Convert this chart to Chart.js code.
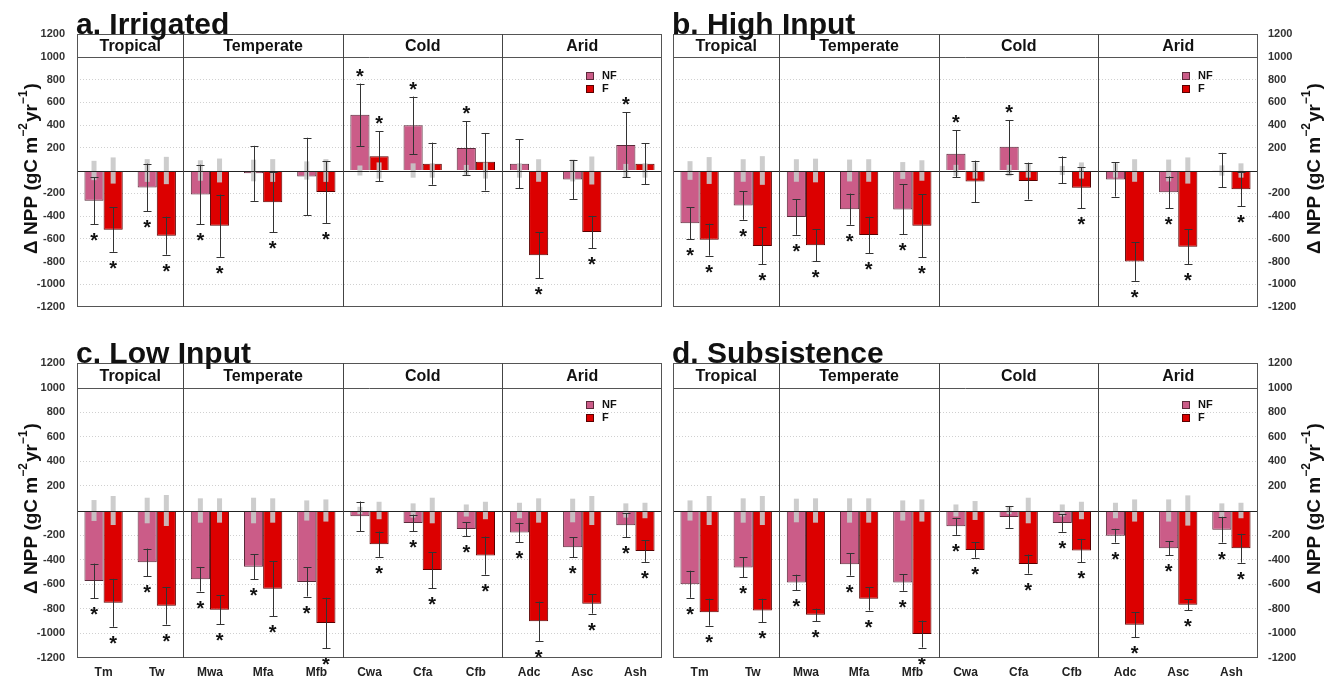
<!DOCTYPE html>
<html>
<head>
<meta charset="utf-8">
<title>NPP change by climate zone</title>
<script src="https://cdn.jsdelivr.net/npm/chart.js@4.4.1/dist/chart.umd.min.js"></script>
<style>
  body { margin: 0; background: #fff; }
  canvas { position: absolute; }
  #pa { left: 0; top: 0; }
  #pb { left: 664px; top: 0; }
  #pc { left: 0; top: 335px; }
  #pd { left: 664px; top: 335px; }
</style>
</head>
<body>
<canvas id="pa" width="664" height="340"></canvas>
<canvas id="pb" width="663" height="340"></canvas>
<canvas id="pc" width="664" height="344"></canvas>
<canvas id="pd" width="663" height="344"></canvas>

<script>
// climate zones and their groups
var zones = ['Tm', 'Tw', 'Mwa', 'Mfa', 'Mfb', 'Cwa', 'Cfa', 'Cfb', 'Adc', 'Asc', 'Ash'];
var groupNames = ['Tropical', 'Temperate', 'Cold', 'Arid'];
var groupSizes = [2, 3, 3, 3];
var yMin = -1200, yMax = 1200, yStep = 200, headerLine = 1000;

// a. Irrigated
var irrNF      = [-266, -150, -211, -25, -52, 490, 397, 197, 60, -79, 225];
var irrF       = [-520, -573, -485, -279, -189, 126, 60, 77, -745, -540, 60];
var irrNFerr   = [208, 210, 262, 242, 340, 274, 253, 235, 215, 171, 286];
var irrFerr    = [195, 167, 274, 265, 272, 220, 185, 253, 200, 141, 180];
var irrNFgrey  = [85, 100, 90, 95, 80, 44, 63, 49, 63, 96, 58];
var irrFgrey   = [115, 120, 105, 100, 100, 71, 63, 71, 99, 123, 63];
var irrNFsig   = [1, 1, 1, 0, 0, 1, 1, 1, 0, 0, 1];
var irrFsig    = [1, 1, 1, 1, 1, 1, 0, 0, 1, 1, 0];

// b. High Input
var hiNF       = [-463, -307, -408, -340, -342, 148, 208, 5, -79, -192, 3];
var hiF        = [-608, -663, -658, -567, -485, -96, -93, -151, -800, -671, -164];
var hiNFerr    = [141, 126, 157, 137, 220, 206, 236, 118, 150, 139, 152];
var hiFerr     = [141, 162, 141, 161, 276, 182, 162, 180, 170, 153, 150];
var hiNFgrey   = [82, 99, 99, 96, 74, 50, 50, 40, 63, 96, 45];
var hiFgrey    = [118, 126, 104, 99, 90, 71, 63, 71, 99, 115, 63];
var hiNFsig    = [1, 1, 1, 1, 1, 1, 1, 0, 0, 1, 0];
var hiFsig     = [1, 1, 1, 1, 1, 0, 0, 1, 1, 1, 1];

// c. Low Input
var loNF       = [-573, -422, -559, -458, -581, -47, -101, -151, -178, -299, -121];
var loF        = [-751, -775, -808, -636, -915, -274, -485, -367, -901, -759, -329];
var loNFerr    = [141, 112, 100, 101, 119, 120, 67, 56, 78, 80, 98];
var loFerr     = [195, 153, 118, 226, 205, 103, 147, 155, 160, 80, 89];
var loNFgrey   = [85, 104, 99, 104, 82, 30, 58, 49, 63, 96, 58];
var loFgrey    = [118, 126, 99, 99, 90, 71, 104, 71, 99, 118, 63];
var loNFsig    = [1, 1, 1, 1, 1, 0, 1, 1, 1, 1, 1];
var loFsig     = [1, 1, 1, 1, 1, 1, 1, 1, 1, 1, 1];

// d. Subsistence
var suNF       = [-600, -463, -586, -438, -586, -129, -52, -101, -205, -307, -156];
var suF        = [-827, -814, -849, -718, -1005, -321, -436, -326, -929, -767, -307];
var suNFerr    = [110, 82, 64, 92, 67, 69, 89, 72, 56, 55, 105];
var suFerr     = [110, 96, 51, 96, 110, 63, 78, 95, 103, 45, 118];
var suNFgrey   = [82, 99, 96, 99, 82, 49, 30, 49, 63, 90, 58];
var suFgrey    = [118, 118, 99, 99, 90, 77, 104, 71, 90, 123, 63];
var suNFsig    = [1, 1, 1, 1, 1, 1, 0, 1, 1, 1, 1];
var suFsig     = [1, 1, 1, 1, 1, 1, 1, 1, 1, 1, 1];

var NF_COLOR = '#cb5c88';
var F_COLOR = '#dc0000';
var FONT = "'Liberation Sans', Arial, sans-serif";

Chart.defaults.font.family = FONT;

function hline(ctx, x1, x2, yy, color) {
	ctx.strokeStyle = color;
	ctx.lineWidth = 1;
	ctx.beginPath();
	ctx.moveTo(x1, Math.round(yy) + 0.5);
	ctx.lineTo(x2, Math.round(yy) + 0.5);
	ctx.stroke();
}

function vline(ctx, xx, y1, y2, color) {
	ctx.strokeStyle = color;
	ctx.lineWidth = 1;
	ctx.beginPath();
	ctx.moveTo(Math.round(xx) + 0.5, y1);
	ctx.lineTo(Math.round(xx) + 0.5, y2);
	ctx.stroke();
}

// rotated axis title with real superscripts
function axisTitle(ctx, cx, cy) {
	var parts = [['\u0394 NPP (gC m', 0], ['\u22122', 1], ['yr', 0], ['\u22121', 1], [')', 0]];
	var big = 'bold 19px ' + FONT, small = 'bold 12px ' + FONT;
	var total = 0;
	parts.forEach(function (p) {
		ctx.font = p[1] ? small : big;
		total += ctx.measureText(p[0]).width + (p[1] ? 1 : 0);
	});
	ctx.save();
	ctx.translate(cx, cy);
	ctx.rotate(-Math.PI / 2);
	ctx.fillStyle = '#111';
	ctx.textAlign = 'left';
	ctx.textBaseline = 'alphabetic';
	var px = -total / 2;
	parts.forEach(function (p) {
		ctx.font = p[1] ? small : big;
		ctx.fillText(p[0], px, p[1] ? -3 : 7);
		px += ctx.measureText(p[0]).width + (p[1] ? 1 : 0);
	});
	ctx.restore();
}

var decor = {
	id: 'decor',
	afterDatasetsDraw: function (chart) {
		var o = chart.options.plugins.decor;
		var ctx = chart.ctx, a = chart.chartArea;
		var x = chart.scales.x, y = chart.scales.y;
		ctx.save();

		// grey control-variability bars
		for (var d = 0; d < 2; d++) {
			chart.getDatasetMeta(d).data.forEach(function (bar, i) {
				var g = o.grey[d][i];
				var t = y.getPixelForValue(g), b = y.getPixelForValue(-g);
				ctx.fillStyle = 'rgba(200,200,200,0.9)';
				ctx.fillRect(bar.x - 2.5, t, 5, b - t);
			});
		}

		hline(ctx, a.left, a.right, y.getPixelForValue(0), '#222');

		// error bars and significance stars
		for (var k = 0; k < 2; k++) {
			var vals = chart.data.datasets[k].data;
			chart.getDatasetMeta(k).data.forEach(function (bar, i) {
				var v = vals[i], e = o.err[k][i];
				var hi = y.getPixelForValue(v + e), lo = y.getPixelForValue(v - e);
				var cx = Math.round(bar.x) + 0.5;
				ctx.strokeStyle = '#333';
				ctx.lineWidth = 1;
				ctx.beginPath();
				ctx.moveTo(cx, hi);
				ctx.lineTo(cx, lo);
				ctx.moveTo(cx - 4, Math.round(hi) + 0.5);
				ctx.lineTo(cx + 4, Math.round(hi) + 0.5);
				ctx.moveTo(cx - 4, Math.round(lo) + 0.5);
				ctx.lineTo(cx + 4, Math.round(lo) + 0.5);
				ctx.stroke();
				if (o.sig[k][i]) {
					var sy = v < 0 ? lo + 12 : hi - 12;
					ctx.font = 'bold 20px ' + FONT;
					ctx.textAlign = 'center';
					ctx.textBaseline = 'alphabetic';
					ctx.fillStyle = '#111';
					ctx.fillText('*', bar.x, sy + 11);
				}
			});
		}

		// frame, header row, group separators and names
		var top = y.getPixelForValue(yMax), head = y.getPixelForValue(headerLine);
		ctx.strokeStyle = '#555';
		ctx.lineWidth = 1;
		ctx.strokeRect(Math.round(a.left) + 0.5, Math.round(a.top) + 0.5, Math.round(a.right - a.left) - 1, Math.round(a.bottom - a.top) - 1);
		hline(ctx, a.left, a.right, head, '#555');
		var step = x.getPixelForValue(1) - x.getPixelForValue(0);
		var start = 0;
		groupNames.forEach(function (name, g) {
			var end = start + groupSizes[g];
			var left = x.getPixelForValue(start) - step / 2;
			var right = x.getPixelForValue(end - 1) + step / 2;
			if (g > 0) vline(ctx, left, a.top, a.bottom, '#444');
			ctx.font = 'bold 16px ' + FONT;
			ctx.fillStyle = '#111';
			ctx.textAlign = 'center';
			ctx.textBaseline = 'middle';
			ctx.fillText(name, (left + right) / 2, (top + head) / 2 + 1);
			start = end;
		});

		// legend
		var lx = a.right - 72, ly = a.top + 42;
		[['NF', NF_COLOR, '#5a2a3a'], ['F', F_COLOR, '#5a0000']].forEach(function (it, j) {
			var yy = ly + j * 13;
			ctx.fillStyle = it[1];
			ctx.fillRect(lx - 4, yy - 4, 8, 8);
			ctx.strokeStyle = it[2];
			ctx.strokeRect(lx - 3.5, yy - 3.5, 7, 7);
			ctx.font = 'bold 11px ' + FONT;
			ctx.fillStyle = '#111';
			ctx.textAlign = 'left';
			ctx.textBaseline = 'middle';
			ctx.fillText(it[0], lx + 12, yy);
		});

		// panel title
		ctx.font = 'bold 30px ' + FONT;
		ctx.fillStyle = '#111';
		ctx.textAlign = 'left';
		ctx.textBaseline = 'alphabetic';
		ctx.fillText(o.title, a.left - 1, a.top);

		// y axis title
		var mid = (a.top + a.bottom) / 2 - 2;
		if (o.side === 'left') axisTitle(ctx, 30, mid);
		else axisTitle(ctx, chart.width - 14, mid);

		ctx.restore();
	}
};

function makePanel(id, title, side, showX, nf, f, nfErr, fErr, nfGrey, fGrey, nfSig, fSig) {
	var pad = side === 'left'
		? { left: 0, right: 2 }
		: { left: 9, right: 0 };
	pad.top = showX ? 28 : 34;
	pad.bottom = showX ? 0 : 12;

	return new Chart(document.getElementById(id), {
		type: 'bar',
		data: {
			labels: zones,
			datasets: [
				{ label: 'NF', data: nf, backgroundColor: NF_COLOR, borderColor: '#5a2a3a', borderWidth: 1,
				  categoryPercentage: 0.72, barPercentage: 1 },
				{ label: 'F', data: f, backgroundColor: F_COLOR, borderColor: '#5a0000', borderWidth: 1,
				  categoryPercentage: 0.72, barPercentage: 1 }
			]
		},
		options: {
			responsive: false,
			animation: false,
			layout: { padding: pad },
			plugins: {
				legend: { display: false },
				tooltip: { enabled: false },
				decor: {
					title: title,
					side: side,
					err: [nfErr, fErr],
					grey: [nfGrey, fGrey],
					sig: [nfSig, fSig]
				}
			},
			scales: {
				x: {
					display: showX,
					grid: { display: false, drawTicks: false },
					border: { display: false },
					ticks: {
						color: '#222',
						font: { size: 12, weight: 'bold' },
						padding: 7,
						maxRotation: 0,
						autoSkip: false
					},
					afterFit: function (s) { s.height = 21; }
				},
				y: {
					position: side,
					min: yMin,
					max: yMax,
					ticks: {
						stepSize: yStep,
						color: '#333',
						font: { size: 11, weight: 'bold' },
						padding: side === 'left' ? 12 : 10,
						callback: function (v) { return v === 0 ? '' : v; }
					},
					grid: {
						drawTicks: false,
						color: function (c) {
							var v = c.tick ? c.tick.value : 0;
							if (v === 0 || v === yMax || v === yMin || v === headerLine) return 'rgba(0,0,0,0)';
							return '#d0d0d0';
						}
					},
					border: { display: false, dash: [1, 2] },
					afterFit: function (s) { s.width = side === 'left' ? 77 : 69; }
				}
			}
		},
		plugins: [decor]
	});
}

makePanel('pa', 'a. Irrigated', 'left', false, irrNF, irrF, irrNFerr, irrFerr, irrNFgrey, irrFgrey, irrNFsig, irrFsig);
makePanel('pb', 'b. High Input', 'right', false, hiNF, hiF, hiNFerr, hiFerr, hiNFgrey, hiFgrey, hiNFsig, hiFsig);
makePanel('pc', 'c. Low Input', 'left', true, loNF, loF, loNFerr, loFerr, loNFgrey, loFgrey, loNFsig, loFsig);
makePanel('pd', 'd. Subsistence', 'right', true, suNF, suF, suNFerr, suFerr, suNFgrey, suFgrey, suNFsig, suFsig);
</script>
</body>
</html>
